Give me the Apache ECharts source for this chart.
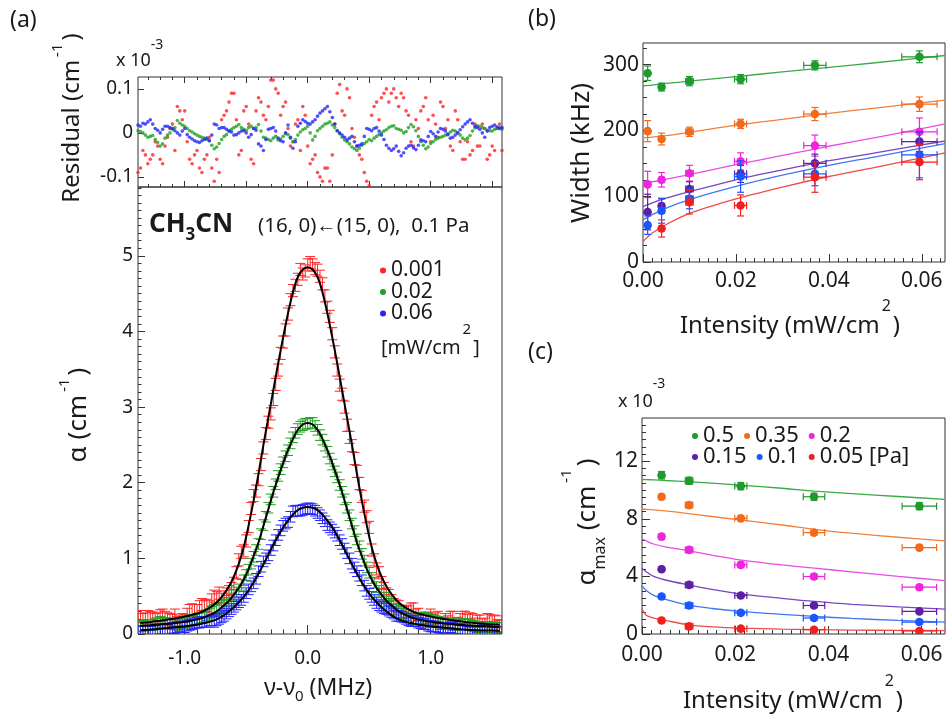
<!DOCTYPE html>
<html><head><meta charset="utf-8">
<script src="https://cdn.jsdelivr.net/npm/echarts@6/dist/echarts.min.js"></script>
<style>html,body{margin:0;padding:0;background:#fff}#c{width:948px;height:719px}</style>
</head><body><div id="c"></div>
<script>
// ===== Panel (a): spectra, fits and residuals (alpha in 1e-3 cm^-1) =====
const freq = [-1.36,-1.32,-1.28,-1.24,-1.20,-1.16,-1.12,-1.08,-1.04,-1.00,-0.96,-0.92,-0.88,-0.84,-0.80,-0.76,-0.72,-0.68,-0.64,-0.60,-0.56,-0.52,-0.48,-0.44,-0.40,-0.36,-0.32,-0.28,-0.24,-0.20,-0.16,-0.12,-0.08,-0.04,0.00,0.04,0.08,0.12,0.16,0.20,0.24,0.28,0.32,0.36,0.40,0.44,0.48,0.52,0.56,0.60,0.64,0.68,0.72,0.76,0.80,0.84,0.88,0.92,0.96,1.00,1.04,1.08,1.12,1.16,1.20,1.24,1.28,1.32,1.36,1.40,1.44,1.48,1.52,1.56];
const freqMid = [-1.38,-1.34,-1.30,-1.26,-1.22,-1.18,-1.14,-1.10,-1.06,-1.02,-0.98,-0.94,-0.90,-0.86,-0.82,-0.78,-0.74,-0.70,-0.66,-0.62,-0.58,-0.54,-0.50,-0.46,-0.42,-0.38,-0.34,-0.30,-0.26,-0.22,-0.18,-0.14,-0.10,-0.06,-0.02,0.02,0.06,0.10,0.14,0.18,0.22,0.26,0.30,0.34,0.38,0.42,0.46,0.50,0.54,0.58,0.62,0.66,0.70,0.74,0.78,0.82,0.86,0.90,0.94,0.98,1.02,1.06,1.10,1.14,1.18,1.22,1.26,1.30,1.34,1.38,1.42,1.46,1.50,1.54,1.58];
const fitRed = [0.146,0.153,0.160,0.168,0.176,0.185,0.195,0.205,0.218,0.230,0.245,0.260,0.280,0.310,0.345,0.390,0.450,0.530,0.630,0.760,0.930,1.150,1.440,1.760,2.120,2.500,2.860,3.220,3.580,3.920,4.240,4.520,4.720,4.820,4.850,4.820,4.720,4.520,4.240,3.920,3.580,3.220,2.860,2.500,2.120,1.760,1.440,1.150,0.930,0.760,0.630,0.530,0.450,0.390,0.345,0.310,0.280,0.260,0.245,0.230,0.218,0.205,0.195,0.185,0.176,0.168,0.160,0.153,0.146,0.140,0.135,0.130,0.126,0.122];
const fitGreen = [0.107,0.111,0.115,0.120,0.125,0.131,0.137,0.144,0.152,0.161,0.172,0.185,0.200,0.222,0.250,0.280,0.325,0.380,0.440,0.520,0.610,0.720,0.860,1.030,1.210,1.430,1.650,1.870,2.070,2.260,2.430,2.580,2.700,2.770,2.790,2.770,2.700,2.580,2.430,2.260,2.070,1.870,1.650,1.430,1.210,1.030,0.860,0.720,0.610,0.520,0.440,0.380,0.325,0.280,0.250,0.222,0.200,0.185,0.172,0.161,0.152,0.144,0.137,0.131,0.125,0.120,0.115,0.111,0.107,0.104,0.101,0.098,0.095,0.093];
const fitBlue = [0.050,0.053,0.057,0.062,0.068,0.076,0.082,0.088,0.094,0.100,0.110,0.120,0.130,0.145,0.160,0.180,0.210,0.250,0.300,0.355,0.420,0.490,0.580,0.680,0.800,0.920,1.050,1.180,1.300,1.410,1.500,1.580,1.640,1.670,1.680,1.670,1.640,1.580,1.500,1.410,1.300,1.180,1.050,0.920,0.800,0.680,0.580,0.490,0.420,0.355,0.300,0.250,0.210,0.180,0.160,0.145,0.130,0.120,0.110,0.100,0.094,0.088,0.082,0.076,0.068,0.062,0.057,0.053,0.050,0.048,0.047,0.046,0.045,0.044];
const dataRed = [0.23,0.20,0.22,0.19,0.24,0.22,0.19,0.25,0.17,0.18,0.31,0.31,0.36,0.37,0.36,0.50,0.54,0.49,0.56,0.67,0.98,1.10,1.42,1.83,2.04,2.46,2.80,3.10,3.49,3.86,4.23,4.54,4.69,4.76,4.88,4.88,4.81,4.63,4.32,3.97,3.49,3.17,2.76,2.49,2.15,1.82,1.55,1.11,0.86,0.68,0.53,0.44,0.37,0.30,0.30,0.33,0.25,0.21,0.17,0.25,0.20,0.14,0.19,0.22,0.13,0.19,0.22,0.20,0.13,0.17,0.13,0.18,0.17,0.10];
const dataRedMid = [0.23,0.19,0.23,0.21,0.20,0.25,0.20,0.18,0.15,0.19,0.26,0.32,0.31,0.39,0.38,0.45,0.48,0.46,0.53,0.60,0.81,1.08,1.23,1.66,1.89,2.24,2.65,2.91,3.30,3.71,4.02,4.42,4.61,4.82,4.80,4.91,4.83,4.73,4.47,4.20,3.73,3.29,3.00,2.60,2.32,1.99,1.69,1.41,0.98,0.81,0.60,0.51,0.39,0.36,0.29,0.29,0.33,0.26,0.19,0.21,0.18,0.22,0.14,0.16,0.22,0.14,0.22,0.18,0.19,0.17,0.12,0.19,0.16,0.11,0.16];
const dataGreen = [0.10,0.12,0.12,0.14,0.16,0.14,0.14,0.13,0.13,0.15,0.17,0.19,0.21,0.23,0.27,0.32,0.35,0.39,0.44,0.51,0.59,0.71,0.85,1.02,1.19,1.44,1.67,1.88,2.09,2.27,2.43,2.60,2.71,2.76,2.78,2.79,2.70,2.57,2.41,2.24,2.07,1.88,1.67,1.46,1.25,1.06,0.88,0.74,0.62,0.52,0.43,0.37,0.32,0.27,0.25,0.20,0.20,0.21,0.21,0.19,0.17,0.15,0.14,0.13,0.12,0.13,0.13,0.12,0.10,0.09,0.09,0.09,0.09,0.08];
const dataGreenMid = [0.10,0.11,0.12,0.12,0.14,0.15,0.14,0.13,0.12,0.14,0.16,0.18,0.20,0.22,0.25,0.29,0.33,0.37,0.41,0.47,0.55,0.65,0.78,0.93,1.11,1.32,1.55,1.78,1.98,2.18,2.35,2.52,2.66,2.74,2.78,2.79,2.75,2.63,2.49,2.32,2.15,1.97,1.78,1.57,1.36,1.16,0.97,0.81,0.68,0.57,0.48,0.40,0.33,0.29,0.27,0.22,0.20,0.20,0.21,0.20,0.18,0.16,0.15,0.14,0.12,0.12,0.13,0.13,0.11,0.09,0.09,0.09,0.09,0.08,0.08];
const dataBlue = [0.04,0.03,0.03,0.05,0.07,0.06,0.07,0.08,0.10,0.09,0.12,0.14,0.15,0.16,0.18,0.16,0.20,0.24,0.30,0.36,0.42,0.49,0.59,0.67,0.83,0.96,1.04,1.17,1.31,1.43,1.48,1.62,1.63,1.64,1.66,1.65,1.60,1.53,1.44,1.38,1.30,1.19,1.07,0.93,0.83,0.71,0.57,0.49,0.41,0.36,0.33,0.29,0.24,0.23,0.20,0.17,0.17,0.14,0.13,0.10,0.10,0.08,0.08,0.09,0.07,0.06,0.04,0.02,0.04,0.04,0.06,0.03,0.03,0.03];
const dataBlueMid = [0.03,0.03,0.03,0.04,0.06,0.06,0.06,0.08,0.09,0.09,0.11,0.13,0.15,0.16,0.16,0.18,0.18,0.22,0.27,0.33,0.39,0.45,0.54,0.63,0.73,0.89,1.00,1.11,1.24,1.37,1.46,1.55,1.63,1.63,1.65,1.66,1.63,1.57,1.49,1.41,1.34,1.24,1.13,1.00,0.88,0.77,0.64,0.53,0.45,0.38,0.34,0.31,0.27,0.24,0.22,0.18,0.17,0.15,0.13,0.11,0.10,0.09,0.08,0.08,0.08,0.07,0.05,0.03,0.03,0.04,0.05,0.04,0.03,0.03,0.03];
const resRed = [-0.08,-0.05,-0.06,-0.02,-0.06,-0.03,0.01,-0.04,0.05,0.05,-0.06,-0.05,-0.08,-0.06,-0.01,-0.11,-0.09,0.04,0.07,0.09,-0.05,0.05,0.02,-0.07,0.08,0.04,0.06,0.12,0.09,0.06,0.01,-0.02,0.03,0.06,-0.03,-0.06,-0.09,-0.11,-0.08,-0.05,0.09,0.05,0.10,0.01,-0.03,-0.06,-0.11,0.04,0.07,0.08,0.10,0.09,0.08,0.09,0.05,-0.02,0.03,0.05,0.08,-0.02,0.02,0.07,0.01,-0.03,0.05,-0.02,-0.06,-0.05,0.02,-0.03,0.01,-0.05,-0.04,0.02];
const resRedMid = [-0.09,-0.04,-0.07,-0.05,-0.03,-0.07,-0.01,0.02,0.06,0.03,-0.02,-0.07,-0.04,-0.09,-0.05,-0.08,-0.06,0.03,0.05,0.09,0.03,-0.04,0.06,-0.06,0.05,0.07,0.03,0.12,0.10,0.04,0.07,-0.03,0.02,-0.04,0.04,-0.07,-0.05,-0.10,-0.08,-0.11,0.02,0.11,0.04,0.08,-0.01,-0.05,-0.09,-0.12,0.06,0.03,0.09,0.07,0.10,0.06,0.08,0.04,-0.03,0.01,0.06,0.03,0.04,-0.01,0.06,0.03,-0.04,0.03,-0.06,-0.02,-0.04,-0.03,0.02,-0.06,-0.03,0.01,-0.04];
const resGreen = [0.003,-0.005,-0.008,-0.015,-0.030,-0.012,0.000,0.012,0.022,0.015,0.005,-0.002,-0.008,-0.012,-0.018,-0.036,-0.024,-0.008,0.003,0.012,0.019,0.008,0.012,0.010,0.019,-0.010,-0.015,-0.012,-0.016,-0.008,-0.004,-0.020,-0.005,0.007,0.015,-0.016,0.005,0.015,0.022,0.018,0.005,-0.010,-0.020,-0.032,-0.040,-0.028,-0.020,-0.018,-0.008,0.000,0.007,0.015,0.010,0.006,0.003,0.019,0.005,-0.020,-0.036,-0.024,-0.015,-0.010,-0.005,0.002,0.004,-0.005,-0.016,-0.006,0.011,0.015,0.010,0.005,0.008,0.012];
const resGreenMid = [0.005,0.000,-0.010,-0.006,-0.022,-0.025,-0.005,0.008,0.028,0.018,0.010,0.002,-0.005,-0.010,-0.015,-0.028,-0.032,-0.015,-0.004,0.008,0.015,0.012,0.006,0.015,0.012,0.004,-0.012,-0.018,-0.008,-0.014,-0.002,-0.012,-0.015,0.002,0.010,0.000,-0.008,0.010,0.020,0.025,0.012,-0.002,-0.016,-0.025,-0.036,-0.035,-0.024,-0.015,-0.012,-0.004,0.004,0.012,0.016,0.008,0.000,0.012,0.014,-0.008,-0.028,-0.032,-0.020,-0.012,-0.008,-0.002,0.006,0.000,-0.012,-0.012,0.004,0.016,0.012,0.006,0.004,0.010,0.008];
const resBlue = [0.015,0.020,0.030,0.010,0.000,0.015,0.012,0.005,-0.005,0.010,-0.010,-0.018,-0.022,-0.015,-0.018,0.020,0.010,0.012,0.005,-0.005,0.000,0.005,-0.010,0.010,-0.025,-0.040,0.008,0.012,-0.012,-0.020,0.018,-0.035,0.015,0.030,0.022,0.025,0.038,0.050,0.060,0.035,0.005,-0.005,-0.016,-0.008,-0.030,-0.025,0.010,0.005,0.012,-0.005,-0.028,-0.040,-0.030,-0.052,-0.035,-0.028,-0.038,-0.016,-0.020,0.003,-0.008,0.010,0.004,-0.012,-0.005,0.007,0.020,0.030,0.015,0.008,-0.010,0.012,0.018,0.010];
const resBlueMid = [0.018,0.022,0.025,0.020,0.006,0.008,0.015,0.010,0.000,0.004,-0.004,-0.014,-0.020,-0.018,-0.012,-0.005,0.018,0.012,0.008,0.002,-0.004,0.004,0.000,-0.004,0.006,-0.030,-0.015,0.010,0.004,-0.018,0.000,-0.010,-0.020,0.022,0.026,0.020,0.030,0.045,0.055,0.048,0.020,0.000,-0.010,-0.012,-0.020,-0.028,-0.008,0.008,0.010,0.004,-0.015,-0.035,-0.036,-0.042,-0.045,-0.030,-0.034,-0.028,-0.018,-0.008,-0.002,0.002,0.008,-0.004,-0.010,0.000,0.014,0.025,0.022,0.012,0.000,0.004,0.015,0.014,0.012];
const errRed = 0.08, errGreen = 0.07, errBlue = 0.07;
const intensityNamesA = ['0.001', '0.02', '0.06'];
const freqMajorTicks = [-1, 0, 1];
const freqMinorTicks = [-1.3,-1.2,-1.1,-1.0,-0.9,-0.8,-0.7,-0.6,-0.5,-0.4,-0.3,-0.2,-0.1,0,0.1,0.2,0.3,0.4,0.5,0.6,0.7,0.8,0.9,1.0,1.1,1.2,1.3,1.4,1.5];
const resMajorTicks = [-1, -0.5, 0, 0.5, 1, 1.5];
const resYTicks = [-0.1, 0, 0.1];
const alphaTicks = [0, 1, 2, 3, 4, 5];

// ===== Panels (b) and (c): pressures (Pa) =====
const pressureNames = ['0.5', '0.35', '0.2', '0.15', '0.1', '0.05'];
const intensityB = [0.001, 0.004, 0.010, 0.021, 0.037, 0.0595];
const intensityErrB = [0.0003, 0.0005, 0.0008, 0.0013, 0.0024, 0.0038];
const widthGreen   = [287, 266, 275, 278, 299, 312];
const widthOrange  = [199, 187, 198, 210, 225, 240];
const widthMagenta = [118, 125, 135, 153, 177, 198];
const widthPurple  = [76, 85, 111, 134, 150, 183];
const widthBlue    = [56, 78, 96, 130, 134, 163];
const widthRed     = [null, 51, 91, 86, 129, 152];
const widthErrGreen   = [11, 6, 7, 7, 7, 9];
const widthErrOrange  = [16, 9, 7, 7, 10, 11];
const widthErrMagenta = [20, 11, 12, 13, 16, 21];
const widthErrPurple  = [27, 11, 11, 13, 14, 15];
const widthErrBlue    = [14, 19, 15, 24, 18, 35];
const widthErrRed     = [null, 13, 18, 16, 23, 27];
const fitXB = [0, 0.002, 0.005, 0.01, 0.02, 0.03, 0.04, 0.05, 0.065];
const widthFitGreen   = [268, 269, 271.5, 275, 282, 289, 296, 303, 314];
const widthFitOrange  = [189, 190, 192, 197, 208, 217, 226, 234, 246];
const widthFitMagenta = [120, 122, 126, 133, 148, 162, 176, 189, 210];
const widthFitPurple  = [84, 90, 97, 107, 125, 140, 154, 166, 184];
const widthFitBlue    = [64, 72, 82, 95, 115, 132, 147, 160, 180];
const widthFitRed     = [31, 44, 57, 74, 96, 114, 130, 144, 166];

const intensityC = [0.0042, 0.0101, 0.0212, 0.0369, 0.0595];
const intensityErrC = [0.0004, 0.0008, 0.0013, 0.0023, 0.0037];
const alphaGreen   = [11.03, 10.64, 10.27, 9.53, 8.88];
const alphaOrange  = [9.53, 8.95, 8.03, 7.04, 6.00];
const alphaMagenta = [6.76, 5.84, 4.80, 3.99, 3.25];
const alphaPurple  = [4.50, 3.41, 2.67, 1.98, 1.57];
const alphaBlue    = [2.60, 1.98, 1.47, 1.11, 0.83];
const alphaRed     = [0.94, 0.53, 0.37, 0.30, 0.21];
const alphaErr     = [0.25, 0.18, 0.18, 0.15, 0.15, 0.15];
const fitXC = [0, 0.001, 0.0025, 0.005, 0.01, 0.015, 0.021, 0.03, 0.037, 0.045, 0.055, 0.065];
const alphaFitGreen   = [10.73, 10.72, 10.70, 10.66, 10.58, 10.48, 10.34, 10.12, 9.92, 9.75, 9.55, 9.35];
const alphaFitOrange  = [8.68, 8.66, 8.62, 8.55, 8.36, 8.16, 7.92, 7.57, 7.27, 7.00, 6.72, 6.46];
const alphaFitMagenta = [6.60, 6.45, 6.25, 6.05, 5.78, 5.48, 5.15, 4.80, 4.57, 4.32, 4.00, 3.71];
const alphaFitPurple  = [4.57, 4.30, 4.00, 3.75, 3.41, 3.10, 2.79, 2.48, 2.26, 2.06, 1.88, 1.73];
const alphaFitBlue    = [3.34, 3.00, 2.68, 2.40, 2.00, 1.77, 1.57, 1.36, 1.22, 1.08, 0.94, 0.83];
const alphaFitRed     = [1.73, 1.28, 1.10, 0.94, 0.64, 0.50, 0.41, 0.34, 0.30, 0.27, 0.25, 0.23];
const intensityTicks = [0, 0.02, 0.04, 0.06];
const widthTicks = [0, 100, 200, 300];
const alphaMaxTicks = [0, 4, 8, 12];

// ===== styling =====
const FONT = 'Noto Sans';
const TXT = '#1a1a1a';
const AXC = '#333';
const COL_A = ['#ff2424', '#22a022', '#2424ff'];
const COL_P = ['#1f9a2e', '#f26b1d', '#f024de', '#5e1ea8', '#1a56ff', '#f02020'];
const COL_L = ['#3aaa46', '#f2803a', '#e84ee6', '#7a45c4', '#3f78f2', '#f04a4a'];

function seq(a, b, s) { const r = []; for (let v = a; v <= b + 1e-9; v += s) r.push(Math.round(v * 1e6) / 1e6); return r; }

const rects = [
  {left: 138, top: 77, width: 364, height: 110},
  {left: 138, top: 187, width: 364, height: 447},
  {left: 643, top: 43, width: 302, height: 219},
  {left: 642, top: 418, width: 303, height: 216}
];
const grids = rects.map(r => Object.assign({show: true, borderColor: AXC, borderWidth: 1, backgroundColor: 'transparent'}, r))
  .concat(rects.map(r => Object.assign({show: false}, r)));

function ax(gridIndex, position, min, max, ticks, len, labels, fmt, fs, margin) {
  return {
    type: 'value', gridIndex, position, min, max,
    axisLine: {show: false, onZero: false},
    axisTick: {show: ticks.length > 0, inside: true, length: len, customValues: ticks, lineStyle: {color: AXC, width: 1}},
    axisLabel: labels ? {show: true, customValues: labels, formatter: fmt, fontSize: fs, fontFamily: FONT, color: TXT, margin} : {show: false},
    splitLine: {show: false}
  };
}
const f1 = v => v.toFixed(1), f2 = v => v.toFixed(2), fi = v => String(v);
const xAxes = [
  ax(0, 'bottom', -1.38, 1.58, resMajorTicks, 6),
  ax(0, 'top', -1.38, 1.58, resMajorTicks, 6),
  ax(1, 'bottom', -1.38, 1.58, freqMajorTicks, 9, freqMajorTicks, f1, 19, 15),
  ax(2, 'bottom', 0, 0.065, intensityTicks, 8, intensityTicks, f2, 21, 9),
  ax(3, 'bottom', 0, 0.065, intensityTicks, 8, intensityTicks, f2, 21, 11),
  ax(4, 'bottom', -1.38, 1.58, freqMinorTicks, 3),
  ax(4, 'top', -1.38, 1.58, freqMinorTicks, 3),
  ax(5, 'bottom', -1.38, 1.58, freqMinorTicks, 4.5),
  ax(6, 'bottom', 0, 0.065, seq(0.002, 0.064, 0.002), 4),
  ax(7, 'bottom', 0, 0.065, seq(0.002, 0.064, 0.002), 4)
];
const yAxes = [
  ax(0, 'left', -0.123, 0.127, resYTicks, 6, resYTicks, v => v === 0 ? '0' : v.toFixed(1), 19, 5),
  ax(1, 'left', 0, 5.91, alphaTicks, 7, alphaTicks, fi, 19, 5),
  ax(2, 'left', 0, 333, widthTicks, 8, widthTicks, fi, 21, 4),
  ax(3, 'left', 0, 15, alphaMaxTicks, 8, alphaMaxTicks, fi, 21, 4),
  ax(4, 'left', -0.123, 0.127, [], 0),
  ax(5, 'left', 0, 5.91, seq(0.1, 5.9, 0.1), 3.5),
  ax(6, 'left', 0, 333, seq(25, 325, 25), 4),
  ax(7, 'left', 0, 15, seq(0.5, 14.5, 0.5), 4)
];

function errSeries(name, xi, yi, data, color, cap, lw, dot, z) {
  return {
    type: 'custom', name, xAxisIndex: xi, yAxisIndex: yi, data, z, clip: true,
    itemStyle: {color}, encode: {x: 0, y: 1}, silent: true,
    renderItem: (params, api) => {
      const x = api.value(0), y = api.value(1), ey = api.value(2), ex = api.value(3);
      const p = api.coord([x, y]), pt = api.coord([x, y + ey]), pb = api.coord([x, y - ey]);
      const st = {stroke: color, lineWidth: lw, fill: null};
      const ch = [
        {type: 'line', shape: {x1: p[0], y1: pt[1], x2: p[0], y2: pb[1]}, style: st},
        {type: 'line', shape: {x1: p[0] - cap, y1: pt[1], x2: p[0] + cap, y2: pt[1]}, style: st},
        {type: 'line', shape: {x1: p[0] - cap, y1: pb[1], x2: p[0] + cap, y2: pb[1]}, style: st}
      ];
      if (ex > 0) {
        const pl = api.coord([x - ex, y]), pr = api.coord([x + ex, y]);
        ch.push({type: 'line', shape: {x1: pl[0], y1: p[1], x2: pr[0], y2: p[1]}, style: st});
        ch.push({type: 'line', shape: {x1: pl[0], y1: p[1] - cap, x2: pl[0], y2: p[1] + cap}, style: st});
        ch.push({type: 'line', shape: {x1: pr[0], y1: p[1] - cap, x2: pr[0], y2: p[1] + cap}, style: st});
      }
      if (dot) ch.push({type: 'circle', shape: {cx: p[0], cy: p[1], r: dot}, style: {fill: color}});
      return {type: 'group', children: ch};
    }
  };
}

const series = [];
// panel (a) main
const dataSetsA = [[dataRed, dataRedMid], [dataGreen, dataGreenMid], [dataBlue, dataBlueMid]];
const errA = [errRed, errGreen, errBlue];
const fitSetsA = [fitRed, fitGreen, fitBlue];
const resSetsA = [[resRed, resRedMid], [resGreen, resGreenMid], [resBlue, resBlueMid]];
dataSetsA.forEach((ds, k) => {
  const d = freq.map((x, i) => [x, ds[0][i], errA[k], 0]).concat(freqMid.map((x, i) => [x, ds[1][i], errA[k], 0]));
  series.push(errSeries(intensityNamesA[k], 2, 1, d, COL_A[k], 5, 1, 0, 2 + k));
});
fitSetsA.forEach(fs => {
  series.push({type: 'line', xAxisIndex: 2, yAxisIndex: 1, data: freq.map((x, i) => [x, fs[i]]), smooth: 0.3, symbol: 'none',
    lineStyle: {color: '#000', width: 2}, z: 10, silent: true});
});
resSetsA.forEach((rs, k) => {
  const d = freq.map((x, i) => [x, rs[0][i]]).concat(freqMid.map((x, i) => [x, rs[1][i]]));
  series.push({type: 'scatter', name: intensityNamesA[k], xAxisIndex: 0, yAxisIndex: 0, data: d,
    symbolSize: 3.6, itemStyle: {color: COL_A[k]}, silent: true, z: 3 + k});
});
// panel (b)
const widthSets = [widthGreen, widthOrange, widthMagenta, widthPurple, widthBlue, widthRed];
const widthErrSets = [widthErrGreen, widthErrOrange, widthErrMagenta, widthErrPurple, widthErrBlue, widthErrRed];
const widthFitSets = [widthFitGreen, widthFitOrange, widthFitMagenta, widthFitPurple, widthFitBlue, widthFitRed];
// panel (c)
const alphaSets = [alphaGreen, alphaOrange, alphaMagenta, alphaPurple, alphaBlue, alphaRed];
const alphaFitSets = [alphaFitGreen, alphaFitOrange, alphaFitMagenta, alphaFitPurple, alphaFitBlue, alphaFitRed];
pressureNames.forEach((n, k) => {
  series.push({type: 'line', xAxisIndex: 3, yAxisIndex: 2, data: fitXB.map((x, i) => [x, widthFitSets[k][i]]), smooth: 0.3,
    symbol: 'none', lineStyle: {color: COL_L[k], width: 1.3}, z: 3, silent: true});
  const db = [];
  intensityB.forEach((x, i) => { if (widthSets[k][i] != null) db.push([x, widthSets[k][i], widthErrSets[k][i], intensityErrB[i]]); });
  series.push(errSeries(n, 3, 2, db, COL_P[k], 3.5, 1.2, 4.3, 4));
  series.push({type: 'line', xAxisIndex: 4, yAxisIndex: 3, data: fitXC.map((x, i) => [x, alphaFitSets[k][i]]), smooth: 0.3,
    symbol: 'none', lineStyle: {color: COL_L[k], width: 1.3}, z: 3, silent: true});
  series.push(errSeries(n, 4, 3, intensityC.map((x, i) => [x, alphaSets[k][i], alphaErr[k], intensityErrC[i]]), COL_P[k], 3.5, 1.2, 4.3, 4));
});

function legendItems(names, cols) { return names.map((n, i) => ({name: n, icon: 'circle', itemStyle: {color: cols[i]}})); }
const legTxt = {fontSize: 21, fontFamily: FONT, color: TXT, lineHeight: 21};
const legTxtC = {fontSize: 22, fontFamily: FONT, color: TXT, lineHeight: 21};
const legends = [
  {data: legendItems(intensityNamesA, COL_A), orient: 'vertical', left: 380, top: 260, padding: 0, itemWidth: 6, itemHeight: 6,
    itemGap: 0.5, textStyle: legTxt, selectedMode: false},
  {data: legendItems(pressureNames.slice(0, 3), COL_P.slice(0, 3)), orient: 'horizontal', left: 692, top: 425, padding: 0,
    itemWidth: 6, itemHeight: 6, itemGap: 10, textStyle: legTxtC, selectedMode: false},
  {data: legendItems(pressureNames.slice(3), COL_P.slice(3)), orient: 'horizontal', left: 692, top: 446, padding: 0,
    itemWidth: 6, itemHeight: 6, itemGap: 10, textStyle: legTxtC, selectedMode: false,
    formatter: n => n === '0.05' ? '0.05 [Pa]' : n}
];

function tx(o) {
  const st = Object.assign({fill: TXT, fontFamily: FONT}, o.style);
  if (st.align) st.textAlign = st.align;
  if (st.verticalAlign) st.textVerticalAlign = st.verticalAlign;
  return Object.assign({type: 'text', z: 100}, o, {style: st});
}
function rs(fs, lh, extra) { return Object.assign({fontSize: fs, fontFamily: FONT, fill: TXT, color: TXT, lineHeight: lh}, extra || {}); }
const R = Math.PI / 2;
const texts = [
  tx({x: 10, y: 20, style: {text: '(a)', fontSize: 23, verticalAlign: 'middle'}}),
  tx({x: 528, y: 19, style: {text: '(b)', fontSize: 23, verticalAlign: 'middle'}}),
  tx({x: 528, y: 352, style: {text: '(c)', fontSize: 23, verticalAlign: 'middle'}}),
  tx({x: 116, y: 61, style: {text: '{m|x 10}{s|-3}', verticalAlign: 'middle', rich: {m: rs(18, 46), s: rs(14, 14, {verticalAlign: 'top'})}}}),
  tx({x: 618, y: 402, style: {text: '{m|x 10}{s|-3}', verticalAlign: 'middle', rich: {m: rs(18, 50), s: rs(14, 14, {verticalAlign: 'top'})}}}),
  tx({x: 149, y: 225, style: {text: '{m|CH}{b|3}{m|CN}', verticalAlign: 'middle',
    rich: {m: rs(26, 38, {fontWeight: 'bold'}), b: rs(17, 17, {fontWeight: 'bold', verticalAlign: 'bottom'})}}}),
  tx({x: 258, y: 226, style: {text: '(16, 0)\u2190(15, 0),  0.1 Pa', fontSize: 20.5, verticalAlign: 'middle'}}),
  tx({x: 381, y: 348, style: {text: '{m|[mW/cm}{s|2}{m|]}', verticalAlign: 'middle', rich: {m: rs(20, 51), s: rs(15, 15, {verticalAlign: 'top', padding: [0, 2, 0, 2]})}}}),
  tx({x: 318, y: 688, style: {text: '{m|\u03bd-\u03bd}{b|0}{m| (MHz)}', align: 'center', verticalAlign: 'middle',
    rich: {m: rs(23, 33), b: rs(15, 15, {verticalAlign: 'bottom'})}}}),
  tx({x: 790, y: 326, style: {text: '{m|Intensity (mW/cm}{s|2}{m|)}', align: 'center', verticalAlign: 'middle',
    rich: {m: rs(24, 56), s: rs(16, 16, {verticalAlign: 'top', padding: [0, 2, 0, 2]})}}}),
  tx({x: 793, y: 701, style: {text: '{m|Intensity (mW/cm}{s|2}{m|)}', align: 'center', verticalAlign: 'middle',
    rich: {m: rs(24, 56), s: rs(16, 16, {verticalAlign: 'top', padding: [0, 2, 0, 2]})}}}),
  tx({x: 72, y: 118, rotation: R, style: {text: '{m|Residual (cm}{s|-1}{m|)}', align: 'center', verticalAlign: 'middle',
    rich: {m: rs(24, 43), s: rs(15, 15, {verticalAlign: 'top', padding: [0, 3, 0, 3]})}}}),
  tx({x: 79, y: 415, rotation: R, style: {text: '{m|\u03b1 (cm}{s|-1}{m|)}', align: 'center', verticalAlign: 'middle',
    rich: {m: rs(26, 43), s: rs(15, 15, {verticalAlign: 'top', padding: [0, 3, 0, 3]})}}}),
  tx({x: 582, y: 153, rotation: R, style: {text: 'Width (kHz)', fontSize: 26, align: 'center', verticalAlign: 'middle'}}),
  tx({x: 588, y: 522, rotation: R, style: {text: '{m|\u03b1}{b|max}{m| (cm}{s|-1}{m|)}', align: 'center', verticalAlign: 'middle',
    rich: {m: rs(26, 57), b: rs(16, 16, {verticalAlign: 'bottom', padding: [0, 0, 8, 0]}), s: rs(15, 15, {verticalAlign: 'top', padding: [0, 3, 0, 3]})}}})
];

const chart = echarts.init(document.getElementById('c'), null, {renderer: 'canvas'});
chart.setOption({
  animation: false,
  backgroundColor: '#fff',
  grid: grids,
  xAxis: xAxes,
  yAxis: yAxes,
  legend: legends,
  series,
  graphic: {elements: texts}
});
</script></body></html>
